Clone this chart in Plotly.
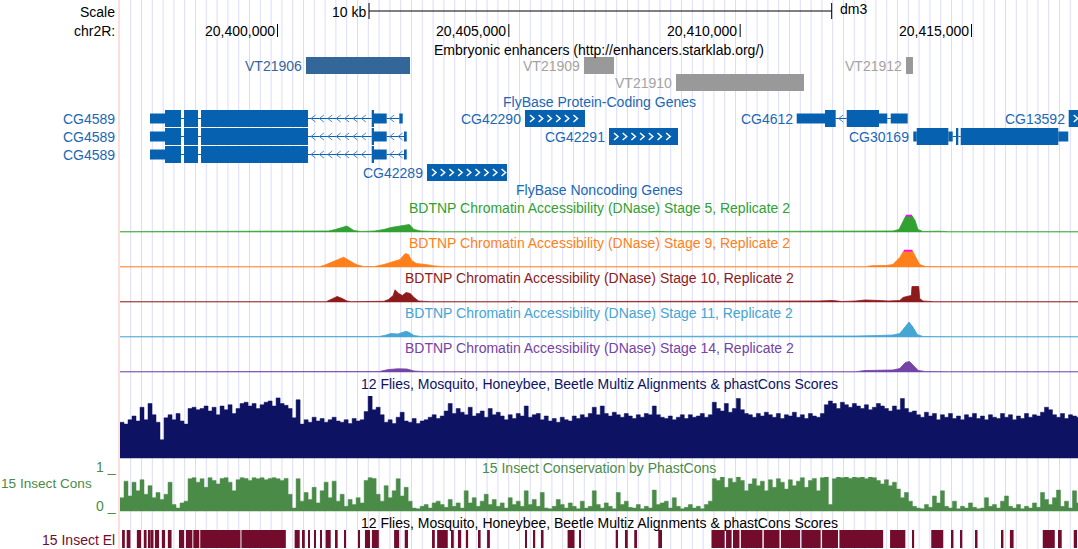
import plotly.graph_objects as go

# ---------------------------------------------------------------------------
# Page geometry and genomic window (chr2R, dm3)
# ---------------------------------------------------------------------------
W, H = 1078, 549
VIEW_START, VIEW_END = 20_394_002, 20_417_302      # genomic span across the page width
BP_PER_PX = (VIEW_END - VIEW_START) / W
DATA_LEFT_PX = 120                                 # left edge of the track area

FONT = "Liberation Sans, Arial, Helvetica, sans-serif"
FS = 14

# ---------------------------------------------------------------------------
# Ruler
# ---------------------------------------------------------------------------
TICKS = [20_400_000, 20_405_000, 20_410_000, 20_415_000]
SCALE_BAR_START = 20_401_978
SCALE_BAR_LEN = 10_000

# ---------------------------------------------------------------------------
# Embryonic enhancers (Stark lab)
# ---------------------------------------------------------------------------
ENH_NAMES = ["VT21906", "VT21909", "VT21910", "VT21912"]
ENH_START = [20_400_616, 20_406_625, 20_408_613, 20_413_584]
ENH_END = [20_402_864, 20_407_273, 20_411_380, 20_413_735]
ENH_ROW = [0, 0, 1, 0]
ENH_ACTIVE = [True, False, False, False]

# ---------------------------------------------------------------------------
# FlyBase protein-coding genes: exon blocks (start, end, kind)
# ---------------------------------------------------------------------------
GENE_NAMES = ["CG4589", "CG4589", "CG4589", "CG42290", "CG42291",
              "CG42289", "CG4612", "CG30169", "CG13592"]
GENE_ROWS = [0, 1, 2, 0, 1, 3, 0, 1, 0]
GENE_STRANDS = ["-", "-", "-", "+", "+", "+", "-", "+", "+"]
_CG4589_BODY = [(20_397_244, 20_397_568, "utr"), (20_397_568, 20_397_914, "cds"),
                (20_397_979, 20_398_282, "cds"), (20_398_347, 20_400_659, "cds"),
                (20_402_036, 20_402_086, "cds"), (20_402_086, 20_402_360, "utr")]
GENE_EXONS = [
    _CG4589_BODY + [(20_402_633, 20_402_706, "utr")],
    _CG4589_BODY + [(20_402_734, 20_402_793, "utr")],
    _CG4589_BODY + [(20_402_734, 20_402_793, "utr")],
    [(20_405_349, 20_406_646, "cds")],
    [(20_407_165, 20_408_656, "cds")],
    [(20_403_231, 20_404_960, "cds")],
    [(20_411_222, 20_411_834, "utr"), (20_411_834, 20_412_065, "cds"),
     (20_412_303, 20_413_001, "cds"), (20_413_001, 20_413_180, "utr"),
     (20_413_254, 20_413_621, "utr")],
    [(20_413_742, 20_413_816, "utr"), (20_413_816, 20_414_499, "cds"),
     (20_414_499, 20_414_594, "utr"), (20_414_665, 20_414_715, "cds"),
     (20_414_767, 20_416_876, "cds"), (20_416_876, 20_417_092, "utr")],
    [(20_417_101, 20_417_600, "cds")],
]

# ---------------------------------------------------------------------------
# BDTNP DNase accessibility (positions relative to chr2R:20,400,000; signal in
# track units, view limit 17)
# ---------------------------------------------------------------------------
ORIGIN = 20_400_000
DNASE_LIMIT = 17
DNASE_LABELS = ["Stage 5", "Stage 9", "Stage 10", "Stage 11", "Stage 14"]
DNASE_COLORS = ["#31a131", "#ff7f1a", "#8e1b1b", "#45a5d3", "#7443a6"]

S5_POS = [-3404, -1800, -1750, -1650, -1100, -1050, -950, 900, 1100, 1250, 1400, 1500, 1650,
          1800, 2100, 2300, 2450, 2600, 2750, 2850, 2950, 3100, 3300, 3500, 8000, 8200, 8400,
          12300, 13000, 13300, 13433, 13520, 13584, 13713, 13780, 13843, 13950, 14300, 14500, 17302]
S5_VAL = [0.8, 0.8, 1.3, 0.8, 0.8, 1.5, 0.8, 0.8, 1.5, 3, 5.5, 6.5, 2, 1, 1.5, 3, 5, 6, 7.5, 8,
          3, 1.5, 1.2, 0.8, 0.8, 1.2, 0.8, 0.8, 1.0, 1.5, 3, 12, 17, 17, 12, 3, 1, 1.3, 0.8, 0.8]

S9_POS = [-3404, -1700, -1650, -1550, 900, 1000, 1150, 1300, 1430, 1550, 1700, 1850, 2100, 2300,
          2450, 2550, 2650, 2760, 2830, 2900, 3000, 3200, 3400, 3600, 7900, 8000, 8200, 8300,
          12700, 12850, 13150, 13300, 13450, 13540, 13720, 13800, 13880, 14000, 14600, 17302]
S9_VAL = [0.8, 0.8, 1.4, 0.8, 0.8, 2, 5, 8.5, 10.3, 7, 3, 1, 1, 3, 5, 6, 8, 14, 13, 7, 4, 3,
          1.5, 0.8, 0.8, 1.5, 1.5, 0.8, 0.8, 1.8, 2, 3, 10, 17, 17, 10, 3, 1, 0.8, 0.8]

S10_POS = [-3404, -1800, -1750, -1650, -600, -550, -450, 1050, 1200, 1290, 1400, 1500, 1600,
           2300, 2400, 2500, 2540, 2620, 2700, 2780, 2870, 2950, 3050, 3300, 5000, 5100, 5200,
           11500, 11700, 12000, 12200, 12500, 12700, 13000, 13200, 13450, 13520, 13600, 13700,
           13714, 13860, 13880, 13950, 14200, 17302]
S10_VAL = [0.8, 0.8, 1.5, 0.8, 0.8, 1.3, 0.8, 0.8, 4, 6, 4, 1.5, 0.8, 1.2, 3, 7, 12.7, 9, 7,
           10, 9, 5, 1.5, 0.8, 0.8, 1.3, 0.8, 0.8, 1.5, 2, 1, 1.5, 2.5, 2, 1.5, 2, 5, 6, 7,
           16, 16, 4, 1.5, 0.8, 0.8]

S11_POS = [-3404, -2500, -2450, -2350, -1500, -800, -700, 2200, 2350, 2450, 2600, 2700, 2780,
           2850, 2950, 3100, 3500, 4000, 12000, 12500, 13000, 13300, 13450, 13550, 13650, 13740,
           13830, 13950, 14500, 14800, 17302]
S11_VAL = [0.8, 0.8, 1.3, 0.8, 1.2, 1.2, 0.8, 1, 2.5, 4, 3.5, 5, 6.3, 5, 2, 1, 1.3, 0.8, 0.8,
           1.5, 2, 2.5, 4, 10, 15.5, 10, 3, 1, 1.2, 0.8, 0.8]

S14_POS = [-3404, -2000, -1950, -1800, 2200, 2400, 2600, 2800, 2950, 3200, 11800, 12000, 12300,
           12500, 12700, 13100, 13300, 13450, 13570, 13660, 13760, 13850, 14000, 14300, 14500, 17302]
S14_VAL = [0.8, 0.8, 1.5, 0.8, 1, 3, 3.7, 3.5, 1.5, 0.8, 0.8, 1.5, 1.5, 0.8, 2, 2, 2.5, 4, 10,
           11, 6, 2, 1, 1.3, 0.8, 0.8]

DNASE_POS = [S5_POS, S9_POS, S10_POS, S11_POS, S14_POS]
DNASE_VAL = [S5_VAL, S9_VAL, S10_VAL, S11_VAL, S14_VAL]

# ---------------------------------------------------------------------------
# Conservation: 240 equal bins from chr2R:20,396,596 (86.5 bp each), scores 0-100
# ---------------------------------------------------------------------------
BIN_START = 20_396_596
BIN_BP = 86.5

MULTIZ_SCORE = [
    58, 55, 62, 68, 60, 82, 62, 88, 70, 58,
    30, 65, 70, 62, 72, 60, 55, 80, 82, 78,
    80, 84, 76, 82, 70, 84, 78, 86, 72, 80,
    88, 90, 84, 88, 80, 86, 90, 92, 84, 97,
    88, 85, 80, 65, 94, 55, 62, 58, 66, 60,
    64, 58, 62, 66, 60, 58, 62, 56, 64, 60,
    62, 75, 100, 78, 82, 70, 58, 62, 56, 66,
    74, 60, 58, 64, 56, 60, 62, 66, 70, 64,
    68, 76, 88, 72, 80, 74, 70, 82, 68, 72,
    76, 66, 80, 70, 74, 68, 62, 70, 64, 72,
    68, 84, 66, 70, 72, 62, 68, 60, 64, 58,
    66, 62, 60, 68, 64, 70, 66, 72, 82, 70,
    84, 72, 68, 74, 70, 66, 72, 68, 64, 70,
    66, 72, 70, 84, 70, 66, 64, 68, 62, 66,
    70, 64, 70, 66, 68, 72, 66, 70, 90, 80,
    76, 88, 74, 80, 96, 78, 72, 70, 66, 72,
    68, 74, 70, 66, 72, 64, 70, 68, 74, 66,
    70, 64, 72, 68, 66, 72, 86, 92, 88, 80,
    90, 86, 82, 88, 84, 80, 86, 78, 82, 88,
    84, 80, 76, 84, 78, 96, 80, 74, 76, 70,
    66, 74, 68, 72, 62, 70, 66, 72, 64, 68,
    62, 70, 66, 72, 64, 68, 62, 70, 66, 64,
    72, 66, 70, 62, 68, 64, 72, 66, 70, 68,
    74, 82, 78, 70, 66, 72, 64, 70, 68, 66,
]

INSECT_CONS = [
    40, 88, 45, 85, 60, 92, 50, 75, 40, 55,
    35, 50, 85, 20, 10, 25, 30, 95, 98, 85,
    95, 70, 98, 90, 80, 96, 98, 85, 60, 92,
    98, 96, 90, 98, 95, 98, 92, 96, 98, 95,
    90, 96, 50, 10, 95, 30, 55, 35, 70, 25,
    60, 85, 40, 88, 30, 50, 15, 35, 20, 40,
    25, 90, 98, 96, 50, 30, 75, 40, 60, 95,
    45, 70, 30, 10, 8, 15, 20, 10, 25, 30,
    20, 12, 35, 15, 25, 10, 60, 25, 40, 15,
    30, 50, 20, 35, 15, 25, 10, 40, 20, 30,
    15, 60, 20, 35, 15, 55, 10, 8, 15, 35,
    20, 10, 25, 15, 8, 30, 10, 15, 60, 20,
    10, 25, 15, 8, 55, 20, 30, 12, 10, 20,
    8, 15, 10, 62, 20, 25, 30, 10, 40, 15,
    8, 12, 20, 10, 15, 8, 20, 30, 95, 90,
    100, 70, 96, 85, 100, 90, 60, 80, 95, 75,
    88, 60, 92, 70, 95, 85, 65, 92, 75, 88,
    98, 70, 90, 96, 60, 98, 100, 20, 95, 100,
    98, 100, 96, 100, 98, 100, 95, 100, 98, 90,
    80, 92, 75, 85, 65, 40, 55, 30, 15, 10,
    8, 20, 12, 45, 25, 60, 15, 10, 30, 8,
    15, 10, 25, 12, 8, 10, 40, 15, 20, 10,
    30, 45, 15, 10, 20, 8, 15, 10, 25, 12,
    55, 35, 20, 40, 62, 15, 30, 10, 60, 25,
]

# 15 insect conserved elements (relative to chr2R:20,400,000)
EL_START = [-3360, -3260, -3040, -2890, -2800, -2720, -2650, -2500, -2370, -2130, -1980,
            -1820, -1670, -780, 370, 550, 660, 790, 920, 1040, 1260, 1450, 1740, 1890, 2040,
            2520, 2750, 3340, 3450, 3750, 3900, 4090, 4350, 4530, 5350, 5540, 5710, 6270, 6530,
            7310, 7510, 7710, 8230, 9380, 9695, 9845, 10015, 10510, 10880, 11325, 11770, 12145,
            13240, 13720, 14130, 14570, 14760, 15090, 15650, 15830, 16540, 16870, 17210]
EL_END = [-3300, -3180, -2950, -2830, -2740, -2680, -2560, -2430, -2290, -2020, -1840,
          -1690, -800, 180, 480, 590, 700, 830, 960, 1150, 1300, 1480, 1780, 2000, 2190,
          2630, 2820, 3400, 3680, 3810, 3970, 4120, 4390, 4590, 5390, 5570, 5750, 6420, 6560,
          7360, 7570, 7770, 8310, 9665, 9815, 9985, 10480, 10850, 11295, 11740, 12115, 13090,
          13570, 13760, 14390, 14610, 14800, 15130, 15690, 15910, 16800, 16950, 17280]

# ---------------------------------------------------------------------------
# Colours
# ---------------------------------------------------------------------------
GUIDE_COLOR = "#dcdcfa"
GUIDE_FIRST_PX, GUIDE_SPACING_PX = 130.7, 10.8
ENH_ACTIVE_COLOR, ENH_BAR_GRAY, ENH_TEXT_GRAY = "#336699", "#999999", "#a3a3a3"
GENE_COLOR, GENE_TEXT, GENE_ARROW = "#0661b0", "#1a68b4", "#4a86c6"
MULTIZ_COLOR = "#0d1262"
CONS_COLOR = "#4a8b48"
EL_COLOR = "#730c2c"


def dom(top_px, bottom_px):
    return [1 - bottom_px / H, 1 - top_px / H]


shapes, annotations, traces = [], [], []


def text(s, x_px, y_px, color="black", anchor="center", size=FS):
    annotations.append(dict(text=s, x=x_px / W, y=y_px, xref="paper", yref="y",
                            xanchor=anchor, yanchor="middle", showarrow=False,
                            font=dict(family=FONT, size=size, color=color)))


# guidelines and left border
g = GUIDE_FIRST_PX
while g < W:
    shapes.append(dict(type="line", xref="paper", yref="paper", x0=g / W, x1=g / W, y0=0, y1=1,
                       line=dict(color=GUIDE_COLOR, width=1), layer="below"))
    g += GUIDE_SPACING_PX
shapes.append(dict(type="line", xref="paper", yref="paper", x0=119 / W, x1=119 / W, y0=0, y1=1,
                   line=dict(color="#ffd2d2", width=1.5), layer="below"))

# ruler
text("Scale", 117, 12, anchor="right")
text("chr2R:", 117, 31, anchor="right")
for t in TICKS:
    shapes.append(dict(type="line", xref="x", yref="y", x0=t, x1=t, y0=24, y1=37,
                       line=dict(color="black", width=1)))
    annotations.append(dict(text=f"{t:,}", x=t, y=31, xref="x", yref="y", xanchor="right",
                            yanchor="middle", xshift=-1, showarrow=False,
                            font=dict(family=FONT, size=FS, color="black")))
sb0, sb1 = SCALE_BAR_START, SCALE_BAR_START + SCALE_BAR_LEN
shapes.append(dict(type="line", xref="x", yref="y", x0=sb0, x1=sb1, y0=11, y1=11,
                   line=dict(color="black", width=1)))
for xb in (sb0, sb1):
    shapes.append(dict(type="line", xref="x", yref="y", x0=xb, x1=xb, y0=3, y1=19,
                       line=dict(color="black", width=1)))
annotations.append(dict(text=f"{SCALE_BAR_LEN // 1000} kb", x=sb0, y=12, xref="x", yref="y",
                        xanchor="right", yanchor="middle", xshift=-1, showarrow=False,
                        font=dict(family=FONT, size=FS, color="black")))
annotations.append(dict(text="dm3", x=sb1, y=9, xref="x", yref="y", xanchor="left",
                        yanchor="middle", xshift=6, showarrow=False,
                        font=dict(family=FONT, size=FS, color="black")))

CENTER_PX = (DATA_LEFT_PX + W) / 2

# enhancers
text("Embryonic enhancers (http://enhancers.starklab.org/)", CENTER_PX, 50)
for name, s, e, r, act in zip(ENH_NAMES, ENH_START, ENH_END, ENH_ROW, ENH_ACTIVE):
    top = 57 + 17 * r
    shapes.append(dict(type="rect", xref="x", yref="y", x0=s, x1=e, y0=top, y1=top + 17,
                       fillcolor=ENH_ACTIVE_COLOR if act else ENH_BAR_GRAY, line=dict(width=0),
                       layer="below"))
    annotations.append(dict(text=name, x=s, y=top + 8.5, xref="x", yref="y", xanchor="right",
                            yanchor="middle", xshift=-2, showarrow=False,
                            font=dict(family=FONT, size=FS,
                                      color=ENH_ACTIVE_COLOR if act else ENH_TEXT_GRAY)))

# genes
text("FlyBase Protein-Coding Genes", CENTER_PX, 102, color=GENE_TEXT)
arrow_x, arrow_y, white_x, white_y = [], [], [], []


def chevrons(x_from, x_to, yc, strand, xs, ys, spacing_px, first_px, half_h, width_px):
    pos = x_from + first_px * BP_PER_PX
    while pos + width_px * BP_PER_PX <= x_to - 1 * BP_PER_PX:
        tip, tail = (pos + width_px * BP_PER_PX, pos) if strand == "+" else (pos, pos + width_px * BP_PER_PX)
        xs += [tail, tip, tail, None]
        ys += [yc - half_h, yc, yc + half_h, None]
        pos += spacing_px * BP_PER_PX


for name, row, strand, exons in zip(GENE_NAMES, GENE_ROWS, GENE_STRANDS, GENE_EXONS):
    top = 110 + 18 * row
    yc = top + 8.5
    for (s, e, kind), nxt in zip(exons, exons[1:] + [None]):
        y0, y1 = (top, top + 17) if kind == "cds" else (top + 3.5, top + 13.5)
        shapes.append(dict(type="rect", xref="x", yref="y", x0=s, x1=e, y0=y0, y1=y1,
                           fillcolor=GENE_COLOR, line=dict(width=0), layer="below"))
        if nxt is not None and nxt[0] > e:
            shapes.append(dict(type="line", xref="x", yref="y", x0=e, x1=nxt[0], y0=yc, y1=yc,
                               line=dict(color=GENE_COLOR, width=1), layer="below"))
            if (nxt[0] - e) / BP_PER_PX > 9:
                chevrons(e, nxt[0], yc, strand, arrow_x, arrow_y, 8.4, 3, 3.5, 4.5)
    if len(exons) == 1:
        chevrons(exons[0][0], exons[0][1], yc, strand, white_x, white_y, 8.7, 5, 3.5, 4)
    start_px = (exons[0][0] - VIEW_START) / BP_PER_PX
    if start_px - 8.3 * len(name) < DATA_LEFT_PX:
        text(name, 117, yc, color=GENE_TEXT, anchor="right")
    else:
        annotations.append(dict(text=name, x=exons[0][0], y=yc, xref="x", yref="y",
                                xanchor="right", yanchor="middle", xshift=-2, showarrow=False,
                                font=dict(family=FONT, size=FS, color=GENE_TEXT)))

traces.append(go.Scatter(x=arrow_x, y=arrow_y, mode="lines", xaxis="x", yaxis="y",
                         line=dict(color=GENE_ARROW, width=1), hoverinfo="skip"))
traces.append(go.Scatter(x=white_x, y=white_y, mode="lines", xaxis="x", yaxis="y",
                         line=dict(color="white", width=1.5), hoverinfo="skip"))
text("FlyBase Noncoding Genes", CENTER_PX, 190, color=GENE_TEXT)

# DNase tracks
axes = {}
DNASE_BASE = [232.5, 267.5, 302.5, 337.5, 372.5]
DNASE_LABEL_Y = [207.5, 242.5, 278, 313, 348]
for i, (lab, col, pos, val, base, ly) in enumerate(zip(DNASE_LABELS, DNASE_COLORS, DNASE_POS,
                                                       DNASE_VAL, DNASE_BASE, DNASE_LABEL_Y)):
    ax = f"y{i + 2}"
    axes[f"yaxis{i + 2}"] = dict(domain=dom(base - 18, base), range=[0, 18], visible=False,
                                 anchor="x", fixedrange=True)
    xs = [ORIGIN + p for p in pos]
    traces.append(go.Scatter(x=xs, y=val, mode="lines", fill="tozeroy", xaxis="x", yaxis=ax,
                             line=dict(color=col, width=0.8), fillcolor=col, hoverinfo="skip"))
    clipped = [x for x, v in zip(xs, val) if v >= DNASE_LIMIT]
    if clipped:
        traces.append(go.Scatter(x=[min(clipped), max(clipped)], y=[DNASE_LIMIT] * 2, mode="lines",
                                 xaxis="x", yaxis=ax, line=dict(color="#ff00ff", width=2),
                                 hoverinfo="skip"))
    text(f"BDTNP Chromatin Accessibility (DNase) {lab}, Replicate 2", CENTER_PX, ly, color=col)

# conservation tracks
bin_x = [BIN_START + i * BIN_BP for i in range(len(MULTIZ_SCORE) + 1)]
text("12 Flies, Mosquito, Honeybee, Beetle Multiz Alignments & phastCons Scores", CENTER_PX, 384,
     color=MULTIZ_COLOR)
axes["yaxis7"] = dict(domain=dom(396, 458.5), range=[0, 100], visible=False, anchor="x",
                      fixedrange=True)
traces.append(go.Scatter(x=bin_x, y=MULTIZ_SCORE + MULTIZ_SCORE[-1:], mode="lines",
                         line_shape="hv", fill="tozeroy", xaxis="x", yaxis="y7",
                         line=dict(color=MULTIZ_COLOR, width=0.5), fillcolor=MULTIZ_COLOR,
                         hoverinfo="skip"))

text("15 Insect Conservation by PhastCons", CENTER_PX, 468, color=CONS_COLOR)
text("15 Insect Cons", 94, 483, color=CONS_COLOR, anchor="right", size=13.6)
text("1 _", 118, 467, color=CONS_COLOR, anchor="right")
text("0 _", 118, 506, color=CONS_COLOR, anchor="right")
axes["yaxis8"] = dict(domain=dom(477, 511.5), range=[0, 100], visible=False, anchor="x",
                      fixedrange=True)
traces.append(go.Scatter(x=bin_x, y=INSECT_CONS + INSECT_CONS[-1:], mode="lines",
                         line_shape="hv", fill="tozeroy", xaxis="x", yaxis="y8",
                         line=dict(color=CONS_COLOR, width=0.5), fillcolor=CONS_COLOR,
                         hoverinfo="skip"))

text("12 Flies, Mosquito, Honeybee, Beetle Multiz Alignments & phastCons Scores", CENTER_PX, 523)
text("15 Insect El", 117, 540, color=EL_COLOR, anchor="right")
axes["yaxis9"] = dict(domain=dom(530, 548), range=[0, 1], visible=False, anchor="x",
                      fixedrange=True)
traces.append(go.Bar(x=[ORIGIN + (s + e) / 2 for s, e in zip(EL_START, EL_END)],
                     y=[1] * len(EL_START), width=[e - s for s, e in zip(EL_START, EL_END)],
                     xaxis="x", yaxis="y9", marker=dict(color=EL_COLOR, line=dict(width=0)),
                     hoverinfo="skip"))

fig = go.Figure(data=traces)
fig.update_layout(
    width=W, height=H, autosize=False, margin=dict(l=0, r=0, t=0, b=0, pad=0),
    paper_bgcolor="white", plot_bgcolor="rgba(0,0,0,0)", showlegend=False,
    xaxis=dict(range=[VIEW_START, VIEW_END], domain=[0, 1], visible=False, fixedrange=True),
    yaxis=dict(range=[H, 0], domain=[0, 1], visible=False, fixedrange=True),
    shapes=shapes, annotations=annotations, **axes,
)
fig.write_html("out.html")
